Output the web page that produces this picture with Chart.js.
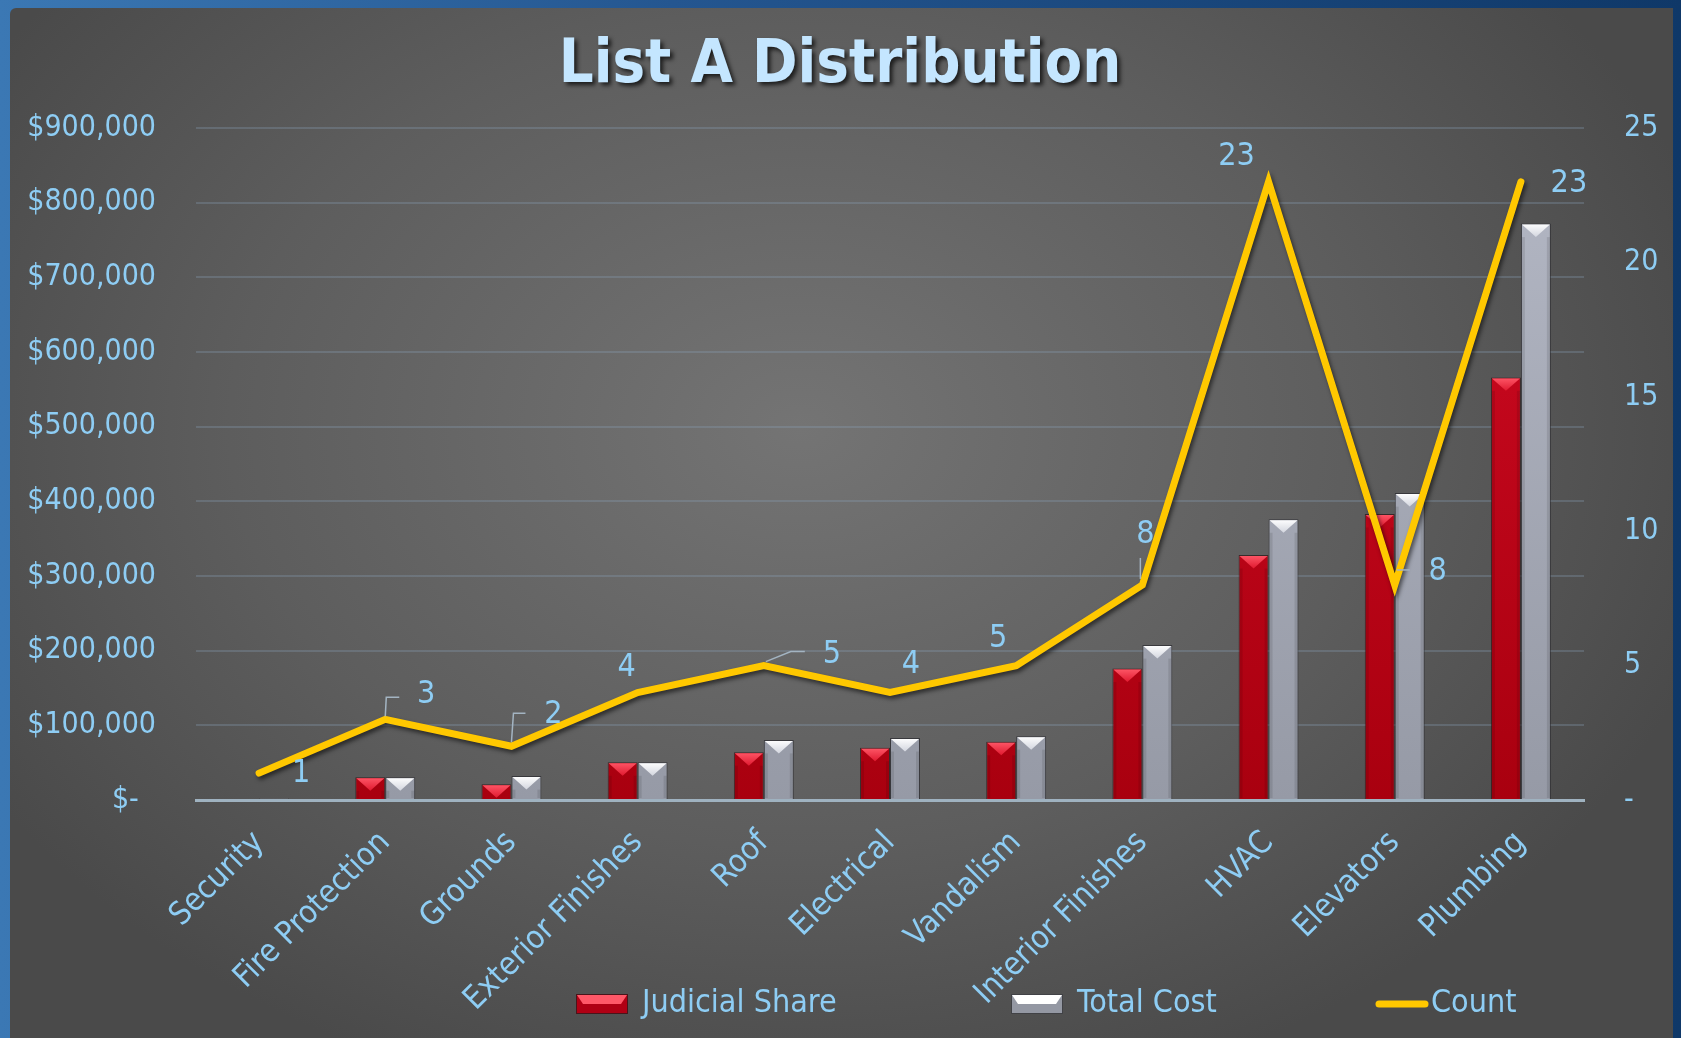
<!DOCTYPE html>
<html>
<head>
<meta charset="utf-8">
<title>List A Distribution</title>
<script src="https://cdn.jsdelivr.net/npm/chart.js@4.4.1/dist/chart.umd.min.js"></script>
<style>
  html, body { margin: 0; padding: 0; }
  body {
    width: 1681px; height: 1038px; overflow: hidden; position: relative;
    background: linear-gradient(90deg, #3b78b4 0%, #245690 40%, #0f3868 100%);
  }
  #panel {
    position: absolute; left: 10px; top: 8px; width: 1663px; height: 1030px;
    border-top-left-radius: 6px;
    background: radial-gradient(ellipse 950px 700px at 790px 420px, #747474 0%, #5d5d5d 60%, #4a4a4a 100%);
  }
  #wrap { position: absolute; left: 0; top: 0; width: 1681px; height: 1038px; }
</style>
</head>
<body>
<div id="panel"></div>
<div id="wrap"><canvas id="chart"></canvas></div>
<script>
// values
const categories = ['Security', 'Fire Protection', 'Grounds', 'Exterior Finishes', 'Roof', 'Electrical',
  'Vandalism', 'Interior Finishes', 'HVAC', 'Elevators', 'Plumbing'];
const judicialShare = [1500, 30500, 21000, 50500, 64000, 70000, 78000, 176000, 328000, 383000, 566000];
const totalCost = [2000, 30500, 32000, 50500, 80500, 83000, 85500, 207500, 376000, 411000, 772000];
const counts = [1, 3, 2, 4, 5, 4, 5, 8, 23, 8, 23];

const TITLE = 'List A Distribution';
const FONT = "'DejaVu Sans Condensed', 'DejaVu Sans', sans-serif";
const TEXT_BLUE = '#8ecdf4';

// where the count labels sit relative to their point (dx, dy)
const labelOffsets = [[42, 1], [41, -25], [42, -32], [-11, -25], [68, -11], [21, -28],
  [-18, -27], [3, -50], [-32, -25], [43, -13], [48, 2]];
// little leader lines for some of the labels
const leaders = {
  1: [[0, -3], [1, -22], [14, -22]],
  2: [[0, -4], [2, -33], [14, -33]],
  4: [[2, -4], [27, -14], [41, -14]],
  7: [[-2, -6], [-2, -27]],
  9: [[2, -15], [15, -15]]
};

let ctx = document.getElementById('chart').getContext('2d');

function barFill(top, bottom) {
  return function(c) {
    let area = c.chart.chartArea;
    if (!area) return top;
    let g = c.chart.ctx.createLinearGradient(0, area.top, 0, area.bottom);
    g.addColorStop(0, top);
    g.addColorStop(1, bottom);
    return g;
  };
}

const bevelPlugin = {
  id: 'bevel',
  afterDatasetDraw(chart, args) {
    let meta = args.meta;
    if (meta.type !== 'bar') return;
    let ds = chart.data.datasets[args.index];
    let c = chart.ctx;
    c.save();
    for (let el of meta.data) {
      let p = el.getProps(['x', 'y', 'base', 'width'], true);
      let h = p.base - p.y;
      if (h < 4) continue;
      let left = p.x - p.width / 2, right = p.x + p.width / 2;
      let d = Math.min(p.width * 0.45, h);
      let g = c.createLinearGradient(0, p.y, 0, p.y + d);
      g.addColorStop(0, ds.bevelLight);
      g.addColorStop(1, ds.bevelMid);
      c.fillStyle = g;
      c.beginPath();
      c.moveTo(left + 1, p.y + 1);
      c.lineTo(right - 1, p.y + 1);
      c.lineTo(p.x, p.y + d);
      c.closePath();
      c.fill();
      // darker side edges
      c.fillStyle = 'rgba(0,0,0,0.10)';
      c.fillRect(left + 1, p.y + d, 3, h - d - 1);
      c.fillRect(right - 4, p.y + d, 3, h - d - 1);
    }
    c.restore();
  }
};

const lineShadowPlugin = {
  id: 'lineShadow',
  beforeDatasetDraw(chart, args) {
    if (args.meta.type !== 'line') return;
    let c = chart.ctx;
    c.save();
    c.shadowColor = 'rgba(0,0,0,0.55)';
    c.shadowOffsetX = 2;
    c.shadowOffsetY = 3;
    c.shadowBlur = 4;
  },
  afterDatasetDraw(chart, args) {
    if (args.meta.type !== 'line') return;
    chart.ctx.restore();
  }
};

const countLabelsPlugin = {
  id: 'countLabels',
  afterDatasetsDraw(chart) {
    let idx = chart.data.datasets.findIndex(d => d.type === 'line');
    let meta = chart.getDatasetMeta(idx);
    let values = chart.data.datasets[idx].data;
    let c = chart.ctx;
    c.save();
    c.strokeStyle = '#a3b4c2';
    c.lineWidth = 1.5;
    for (let k in leaders) {
      let pt = meta.data[k];
      let seg = leaders[k];
      c.beginPath();
      c.moveTo(pt.x + seg[0][0], pt.y + seg[0][1]);
      for (let s = 1; s < seg.length; s++) c.lineTo(pt.x + seg[s][0], pt.y + seg[s][1]);
      c.stroke();
    }
    c.font = '32px ' + FONT;
    c.fillStyle = TEXT_BLUE;
    c.textAlign = 'center';
    c.textBaseline = 'middle';
    meta.data.forEach((pt, i) => {
      c.fillText(String(values[i]), pt.x + labelOffsets[i][0], pt.y + labelOffsets[i][1]);
    });
    c.restore();
  }
};

const titlePlugin = {
  id: 'shadowTitle',
  afterDraw(chart) {
    let c = chart.ctx;
    c.save();
    c.font = 'bold 61px ' + FONT;
    c.textAlign = 'center';
    c.textBaseline = 'middle';
    c.shadowColor = 'rgba(0,0,0,0.7)';
    c.shadowOffsetX = 3;
    c.shadowOffsetY = 3;
    c.shadowBlur = 4;
    c.fillStyle = '#c4e6ff';
    c.fillText(TITLE, 840, 66);
    c.restore();
  }
};

// legend drawn at the bottom, spread out like the original
const legendX = [576, 1011, 1375];
const legendPlugin = {
  id: 'spreadLegend',
  afterDraw(chart) {
    let c = chart.ctx;
    let y = 1004;
    c.save();
    c.font = '32px ' + FONT;
    c.textBaseline = 'middle';
    c.textAlign = 'left';
    chart.data.datasets.forEach((ds, i) => {
      let x = legendX[i];
      if (ds.type === 'line') {
        c.strokeStyle = ds.borderColor;
        c.lineWidth = 7;
        c.lineCap = 'round';
        c.beginPath();
        c.moveTo(x + 4, y);
        c.lineTo(x + 50, y);
        c.stroke();
      } else {
        c.fillStyle = ds.legendDark;
        c.fillRect(x, y - 10, 52, 20);
        c.fillStyle = ds.bevelLight;
        c.beginPath();
        c.moveTo(x + 1, y - 9);
        c.lineTo(x + 51, y - 9);
        c.lineTo(x + 45, y);
        c.lineTo(x + 7, y);
        c.closePath();
        c.fill();
        c.strokeStyle = 'rgba(30,30,30,0.7)';
        c.lineWidth = 1;
        c.strokeRect(x + 0.5, y - 9.5, 51, 19);
      }
      c.fillStyle = TEXT_BLUE;
      c.fillText(ds.label, x + (ds.type === 'line' ? 56 : 66), y);
    });
    c.restore();
  }
};

let chart = new Chart(ctx, {
  data: {
    labels: categories,
    datasets: [{
      type: 'bar',
      label: 'Judicial Share',
      data: judicialShare,
      yAxisID: 'y',
      order: 1,
      backgroundColor: barFill('#d20b24', '#a9000f'),
      borderColor: 'rgba(40,20,20,0.7)',
      borderWidth: 1,
      bevelLight: '#ff5868',
      bevelMid: '#e01a30',
      legendDark: '#b00014',
      categoryPercentage: 0.475,
      barPercentage: 1.0
    }, {
      type: 'bar',
      label: 'Total Cost',
      data: totalCost,
      yAxisID: 'y',
      order: 1,
      backgroundColor: barFill('#b4b8c5', '#969aa6'),
      borderColor: 'rgba(40,40,45,0.7)',
      borderWidth: 1,
      bevelLight: '#ffffff',
      bevelMid: '#d3d6df',
      legendDark: '#9498a3',
      categoryPercentage: 0.475,
      barPercentage: 1.0
    }, {
      type: 'line',
      label: 'Count',
      data: counts,
      yAxisID: 'y1',
      order: 0,
      borderColor: '#ffc800',
      borderWidth: 7,
      borderCapStyle: 'round',
      borderJoinStyle: 'miter',
      tension: 0,
      pointRadius: 0,
      fill: false
    }]
  },
  options: {
    responsive: true,
    maintainAspectRatio: false,
    animation: false,
    layout: { padding: { top: 128, left: 0, right: 0, bottom: 0 } },
    plugins: {
      legend: { display: false },
      title: { display: false },
      tooltip: { enabled: false }
    },
    scales: {
      x: {
        afterFit(scale) { scale.height = 238; },
        grid: { display: false },
        border: { display: true, color: '#9fb2c0', width: 3 },
        ticks: {
          color: TEXT_BLUE,
          font: { family: FONT, size: 32 },
          minRotation: 45,
          maxRotation: 45,
          padding: 16,
          autoSkip: false
        }
      },
      y: {
        position: 'left',
        min: 0,
        max: 900000,
        afterFit(scale) { scale.width = 196; },
        grid: { color: 'rgba(140,165,190,0.28)', lineWidth: 2, drawTicks: false },
        border: { display: false },
        ticks: {
          stepSize: 100000,
          padding: 40,
          color: TEXT_BLUE,
          font: { family: FONT, size: 30 },
          callback: v => v === 0 ? '$-  ' : '$' + v.toLocaleString('en-US')
        }
      },
      y1: {
        position: 'right',
        min: 0,
        max: 25,
        afterFit(scale) { scale.width = 97; },
        grid: { display: false, drawTicks: false },
        border: { display: false },
        ticks: {
          stepSize: 5,
          padding: 40,
          color: TEXT_BLUE,
          font: { family: FONT, size: 30 },
          callback: v => v === 0 ? '-' : String(v)
        }
      }
    }
  },
  plugins: [bevelPlugin, lineShadowPlugin, countLabelsPlugin, titlePlugin, legendPlugin]
});
</script>
</body>
</html>
